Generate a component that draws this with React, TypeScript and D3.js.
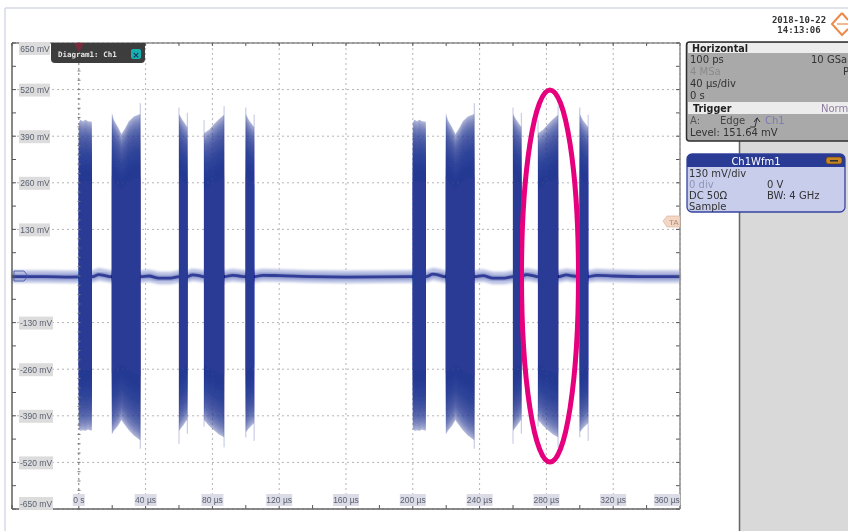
import React from "react";
import * as d3 from "d3";

// ---- data (µs / mV) ----
const timeTicks = [0, 40, 80, 120, 160, 200, 240, 280, 320, 360];
const voltTicks = [650, 520, 390, 260, 130, 0, -130, -260, -390, -520, -650];
const voltLabels = ["650 mV", "520 mV", "390 mV", "260 mV", "130 mV", "", "-130 mV", "-260 mV", "-390 mV", "-520 mV", "-650 mV"];
const frameStarts = [0, 200];

const burst1T = [0, 1, 2.5, 4, 5.5, 7.8];
const burst1Top = [428, 436, 432, 436, 432, 430];
const burst1Bot = [-428, -432, -430, -432, -428, -432];
const burst2T = [19.8, 21, 23.5, 25.5, 27.5, 30, 33, 36.8];
const burst2Top = [455, 435, 415, 396, 410, 432, 445, 452];
const burst2Bot = [-442, -432, -418, -402, -415, -430, -445, -458];
const burst3T = [60, 62, 65];
const burst3Top = [452, 436, 416];
const burst3Bot = [-432, -420, -400];
const burst4T = [75, 78, 81, 84, 87];
const burst4Top = [398, 408, 424, 438, 450];
const burst4Bot = [-402, -418, -430, -442, -450];
const burst5T = [100, 102, 105];
const burst5Top = [452, 434, 416];
const burst5Bot = [-436, -424, -410];
const bursts = [
  { t: burst1T, top: burst1Top, bot: burst1Bot },
  { t: burst2T, top: burst2Top, bot: burst2Bot },
  { t: burst3T, top: burst3Top, bot: burst3Bot },
  { t: burst4T, top: burst4Top, bot: burst4Bot },
  { t: burst5T, top: burst5Top, bot: burst5Bot },
];
// edge spikes: time, top, bottom
const spikeT = [36.8, 65, 60, 75, 87, 105, 100];
const spikeTop = [482, 455, 470, 435, 474, 450, 470];
const spikeBot = [-482, -440, -468, -420, -478, -460, -450];

const baseT = [-40, -20, -5, 8, 12, 16, 19, 37, 42, 48, 55, 60, 65, 68, 72, 75, 87, 92, 96, 100, 105, 110, 120, 140, 160, 199.9];
const baseV = [-2, -2, -3, -2, 4, 1, -2, -2, 0, -6, -6, -2, -2, 3, 1, -2, -2, 2, 0, -2, -2, 2, 1, -2, -3, -2];
const lateT = [199.9, 208, 212, 216, 219, 237, 242, 248, 255, 260, 265, 268, 272, 275, 287, 292, 296, 300, 305, 310, 320, 340, 360];
const lateV = [-2, -2, 5, 2, -2, -2, 1, -6, -6, -2, -2, 4, 1, -2, -2, 3, 0, -2, -2, 2, 0, -2, -2];

const layerFractions = d3.range(0.99, 0.62, -0.01);

const W = 848, H = 531;
const x = d3.scaleLinear().domain([-40, 360]).range([12, 680]);
const y = d3.scaleLinear().domain([650, -650]).range([43, 509]);
const INK = "#2b3a96";

function burstPath(b: { t: number[]; top: number[]; bot: number[] }, shift: number, f: number) {
  const gen = d3.area<number>()
    .x((_, i) => x(b.t[i] + shift))
    .y0((_, i) => y(b.bot[i] * f))
    .y1((_, i) => y(b.top[i] * f));
  return gen(b.t) as string;
}

const mono = "'DejaVu Sans Mono', monospace";
const sans = "'DejaVu Sans', sans-serif";
const lab = "Arial, 'Liberation Sans', sans-serif";

function Ticks() {
  const minorY = d3.range(-650, 651, 65);
  const minorX = d3.range(-40, 361, 20);
  const onAxis = d3.range(-650, 651, 26);
  return (
    <g stroke="#555" strokeWidth={1}>
      {minorY.map((v) => (
        <g key={v}>
          <line x1={12} x2={16} y1={y(v)} y2={y(v)} />
          <line x1={676} x2={680} y1={y(v)} y2={y(v)} />
        </g>
      ))}
      {minorX.map((t) => (
        <g key={t}>
          <line x1={x(t)} x2={x(t)} y1={505} y2={509} />
          <line x1={x(t)} x2={x(t)} y1={43} y2={46} />
        </g>
      ))}
      {onAxis.map((v) => (
        <line key={v} x1={77.5} x2={80.5} y1={y(v)} y2={y(v)} stroke="#777" />
      ))}
    </g>
  );
}

export default function App() {
  const t = [...baseT, ...lateT];
  const v = [...baseV, ...lateV];
  const band = d3.area<number>()
    .x((_, i) => x(t[i]))
    .y0((_, i) => y(v[i] - 17))
    .y1((_, i) => y(v[i] + 18));
  const mid = d3.line<number>()
    .x((_, i) => x(t[i]))
    .y((_, i) => y(v[i]))
    .curve(d3.curveMonotoneX);
  return (
    <svg width={W} height={H} viewBox={`0 0 ${W} ${H}`} style={{ position: "absolute", left: 0, top: 0, background: "#fff" }}>
      <defs>
        <filter id="soft" x="-2%" y="-2%" width="104%" height="104%">
          <feGaussianBlur stdDeviation="0.5" />
        </filter>
        <filter id="softer" x="-2%" y="-50%" width="104%" height="200%">
          <feGaussianBlur stdDeviation="0.9" />
        </filter>
      </defs>
      <g filter="url(#soft)">
        {/* page rule */}
        <line x1={5} x2={848} y1={8} y2={8} stroke="#d6dae4" strokeWidth={1.5} />
        <line x1={5} x2={5} y1={8} y2={531} stroke="#d6dae4" strokeWidth={1.5} />

        {/* right side */}
        <rect x={740} y={140} width={108} height={391} fill="#d9d9d9" />
        <line x1={739.5} x2={739.5} y1={140} y2={531} stroke="#666" strokeWidth={1.5} />

        {/* grid */}
        <g stroke="#b4b4b4" strokeWidth={1} strokeDasharray="2 3">
          {timeTicks.map((tk) => (
            <line key={tk} x1={x(tk)} x2={x(tk)} y1={43} y2={509} stroke={tk === 0 ? "#777" : undefined} />
          ))}
          {voltTicks.map((vk) => (
            <line key={vk} x1={12} x2={680} y1={y(vk)} y2={y(vk)} />
          ))}
        </g>

        {/* baseline noise */}
        <path d={band(t) as string} fill="#bcc3e4" filter="url(#softer)" />
        <path d={mid(t) as string} fill="none" stroke={INK} strokeOpacity={0.4} strokeWidth={5} filter="url(#softer)" />
        <path d={mid(t) as string} fill="none" stroke={INK} strokeOpacity={0.95} strokeWidth={2.8} />
        <path d="M14,271 H24 L28,276 L24,281 H14 Z" fill="none" stroke="#4a57a8" strokeWidth={0.9} />

        {/* bursts */}
        {frameStarts.map((s) => (
          <g key={s}>
            {spikeT.map((tk, i) => (
              <line key={i} x1={x(tk + s)} x2={x(tk + s)} y1={y(spikeTop[i])} y2={y(spikeBot[i])} stroke={INK} strokeOpacity={0.3} strokeWidth={1} />
            ))}
            {bursts.map((b, i) => (
              <g key={i}>
                <path d={burstPath(b, s, 1)} fill={INK} fillOpacity={0.38} />
                {layerFractions.map((f, j) => (
                  <path key={j} d={burstPath(b, s, f)} fill={INK} fillOpacity={0.1} />
                ))}
                <path d={burstPath(b, s, 0.61)} fill={INK} />
              </g>
            ))}
          </g>
        ))}

        {/* frame and ticks */}
        <Ticks />
        <line x1={12} x2={680} y1={43} y2={43} stroke="#555" strokeWidth={1.2} />
        <line x1={12} x2={12} y1={43} y2={509} stroke="#555" strokeWidth={1.4} />
        <line x1={12} x2={680} y1={509} y2={509} stroke="#666" strokeWidth={1.4} />
        <line x1={680} x2={680} y1={43} y2={509} stroke="#888" strokeWidth={1.4} />

        {/* axis labels */}
        {voltTicks.map((vk, i) =>
          voltLabels[i] ? (
            <g key={vk}>
              <rect x={19} y={y(vk) - 6 + (vk === 650 ? 5 : 0) + (vk === -650 ? -6 : 0)} width={vk < 0 ? 34 : 31} height={13} fill="#dcdcdc" />
              <text x={vk < 0 ? 36 : 35} y={y(vk) + 3.5 + (vk === 650 ? 5 : 0) + (vk === -650 ? -6 : 0)} textAnchor="middle" fontFamily={lab} fontSize={8.5} fill="#5a6070">
                {voltLabels[i]}
              </text>
            </g>
          ) : null
        )}
        {timeTicks.map((tk) => {
          const s = tk === 0 ? "0 s" : `${tk} µs`;
          const w = tk === 0 ? 12 : tk < 100 ? 22 : 26;
          const cx = tk === 360 ? x(tk) - 13 : x(tk);
          return (
            <g key={tk}>
              <rect x={cx - w / 2} y={494} width={w} height={12} fill="#dcdce6" />
              <text x={cx} y={503} textAnchor="middle" fontFamily={lab} fontSize={8.5} fill="#5a6070">{s}</text>
            </g>
          );
        })}

        {/* diagram tab */}
        <path d="M51,43 H145 V59 Q145,63 141,63 H55 Q51,63 51,59 Z" fill="#3e3e3e" />
        <path d="M74,43 H84 L79,52 Z" fill="#7a2b3c" />
        <text x={58} y={57} fontFamily={mono} fontWeight="bold" fontSize={7.5} fill="#e4e4e4">Diagram1: Ch1</text>
        <rect x={131} y={49} width={10} height={10} rx={2} fill="#19b0b0" />
        <text x={136} y={57.5} textAnchor="middle" fontFamily={sans} fontWeight="bold" fontSize={9} fill="#16305a">×</text>

        {/* TA tag */}
        <path d="M663,221 L667,216 H680 V227 H667 Z" fill="#f3d7c6" stroke="#d9a98f" strokeWidth={0.6} />
        <text x={669} y={225} fontFamily={lab} fontSize={8} fill="#b58a72">TA</text>

        {/* timestamp + logo */}
        <text x={799} y={23} textAnchor="middle" fontFamily={mono} fontWeight="bold" fontSize={9} fill="#333">2018-10-22</text>
        <text x={799} y={33} textAnchor="middle" fontFamily={mono} fontWeight="bold" fontSize={9} fill="#333">14:13:06</text>
        <g fill="none" stroke="#ee8a4a" strokeWidth={2}>
          <path d="M842,13 L832,24 L842,35 L848,29" />
          <path d="M842,13 L848,20" />
          <path d="M837,24 H848" strokeWidth={1.2} />
        </g>

        {/* horizontal panel */}
        <rect x={686.5} y={42} width={170} height={99} rx={3} fill="#a9a9a9" stroke="#2f2f2f" strokeWidth={1.5} />
        <rect x={688} y={43} width={160} height={10} fill="#ececec" />
        <rect x={688} y={102} width={160} height={12} fill="#ececec" />
        <g fontFamily={sans} fontSize={10} fill="#333">
          <text x={692} y={52} fontWeight="bold" fontSize={9.6} fill="#222">Horizontal</text>
          <text x={690} y={63}>100 ps</text>
          <text x={811} y={63}>10 GSa</text>
          <text x={843} y={75} fill="#333">P</text>
          <text x={690} y={75} fill="#8a8a8a">4 MSa</text>
          <text x={690} y={87}>40 µs/div</text>
          <text x={690} y={99}>0 s</text>
          <text x={693} y={112} fontWeight="bold" fontSize={9.6} fill="#222">Trigger</text>
          <text x={821} y={112} fill="#8e7ca0">Norm</text>
          <text x={690} y={124} fill="#555">A:</text>
          <text x={720} y={124} fill="#444">Edge</text>
          <path d="M750,127 H755 L757,118 H758 M754,122 L757,118 L760,122" stroke="#333" fill="none" strokeWidth={1} />
          <text x={765} y={124} fill="#7b7bb5">Ch1</text>
          <text x={690} y={136}>Level: 151.64 mV</text>
        </g>

        {/* channel panel */}
        <rect x={687} y={154} width={158} height={58} rx={5} fill="#c8cdec" stroke="#36449e" strokeWidth={1.3} />
        <path d="M687,167 V159 Q687,154 692,154 H840 Q845,154 845,159 V167 Z" fill={INK} />
        <text x={756} y={165} textAnchor="middle" fontFamily={sans} fontSize={10} fill="#fff">Ch1Wfm1</text>
        <rect x={826} y={157} width={16} height={7} rx={2.5} fill="#c88420" stroke="#4a3a20" strokeWidth={0.6} />
        <rect x={830} y={160} width={8} height={1.6} fill="#333" />
        <g fontFamily={sans} fontSize={10} fill="#333">
          <text x={689} y={177}>130 mV/div</text>
          <text x={689} y={188} fill="#8f95b8">0 div</text>
          <text x={767} y={188}>0 V</text>
          <text x={689} y={199}>DC 50Ω</text>
          <text x={767} y={199}>BW: 4 GHz</text>
          <text x={689} y={210}>Sample</text>
        </g>
      </g>

      {/* annotation */}
      <ellipse cx={550} cy={276} rx={28.5} ry={186} fill="none" stroke="#e6007e" strokeWidth={5} filter="url(#soft)" />
    </svg>
  );
}
